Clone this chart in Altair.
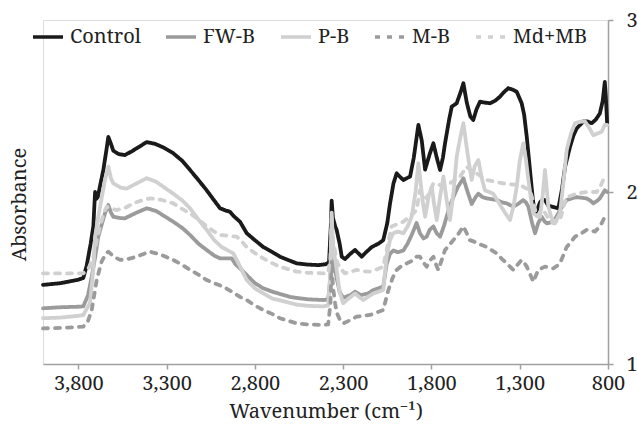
import altair as alt
import pandas as pd

series_names = ["Control", "FW-B", "P-B", "M-B", "Md+MB"]
series_colors = ["#1a1a1a", "#9b9b9b", "#d0d0d0", "#9b9b9b", "#d0d0d0"]
series_dashes = [[1, 0], [1, 0], [1, 0], [5, 7], [5, 7]]
x_ticks = [3800, 3300, 2800, 2300, 1800, 1300, 800]
y_ticks = [1, 2, 3]

control_wn = [4000, 3900, 3800, 3772, 3753, 3730, 3715, 3705, 3698, 3690, 3658, 3640, 3630, 3615, 3602, 3570, 3536, 3500, 3469, 3413, 3366, 3320, 3262, 3210, 3167, 3120, 3073, 3030, 2997, 2960, 2941, 2920, 2884, 2846, 2800, 2752, 2700, 2658, 2600, 2563, 2500, 2440, 2400, 2380, 2370, 2365, 2358, 2345, 2337, 2320, 2308, 2290, 2260, 2233, 2210, 2195, 2170, 2138, 2100, 2073, 2050, 2035, 2015, 1997, 1980, 1959, 1940, 1921, 1900, 1874, 1855, 1836, 1810, 1789, 1770, 1751, 1735, 1723, 1700, 1685, 1657, 1635, 1619, 1600, 1580, 1563, 1545, 1525, 1500, 1468, 1440, 1412, 1390, 1365, 1340, 1317, 1289, 1275, 1260, 1242, 1225, 1213, 1200, 1185, 1170, 1157, 1138, 1119, 1100, 1081, 1060, 1043, 1015, 995, 977, 940, 915, 893, 870, 846, 830, 818, 812, 805]
control_abs = [1.46, 1.47, 1.49, 1.50, 1.57, 1.70, 1.80, 2.00, 1.96, 1.97, 2.13, 2.25, 2.32, 2.28, 2.24, 2.22, 2.215, 2.235, 2.254, 2.29, 2.28, 2.26, 2.225, 2.18, 2.128, 2.07, 2.01, 1.95, 1.905, 1.89, 1.885, 1.86, 1.827, 1.76, 1.72, 1.68, 1.65, 1.624, 1.60, 1.585, 1.578, 1.575, 1.58, 1.59, 1.80, 1.95, 1.85, 1.80, 1.78, 1.70, 1.624, 1.61, 1.64, 1.663, 1.64, 1.624, 1.65, 1.68, 1.70, 1.72, 1.82, 1.93, 2.05, 2.108, 2.09, 2.07, 2.08, 2.09, 2.20, 2.39, 2.30, 2.13, 2.22, 2.283, 2.20, 2.128, 2.20, 2.283, 2.42, 2.496, 2.516, 2.58, 2.632, 2.52, 2.44, 2.419, 2.48, 2.525, 2.52, 2.516, 2.53, 2.554, 2.58, 2.603, 2.595, 2.583, 2.516, 2.45, 2.32, 2.128, 1.95, 1.876, 1.90, 1.94, 1.955, 1.953, 1.92, 1.915, 1.91, 1.905, 2.02, 2.147, 2.263, 2.33, 2.37, 2.41, 2.41, 2.40, 2.42, 2.457, 2.53, 2.64, 2.55, 2.40]

fwb_wn = [4000, 3900, 3800, 3772, 3745, 3724, 3705, 3687, 3665, 3649, 3630, 3615, 3602, 3560, 3536, 3470, 3413, 3360, 3262, 3210, 3167, 3120, 3073, 3030, 2997, 2931, 2910, 2884, 2846, 2800, 2752, 2700, 2658, 2600, 2563, 2500, 2412, 2385, 2372, 2365, 2358, 2345, 2337, 2320, 2300, 2260, 2233, 2200, 2160, 2129, 2100, 2073, 2054, 2035, 2016, 1990, 1959, 1935, 1912, 1884, 1865, 1845, 1827, 1810, 1789, 1770, 1751, 1730, 1714, 1695, 1676, 1650, 1619, 1595, 1572, 1550, 1534, 1510, 1487, 1430, 1400, 1374, 1336, 1310, 1280, 1265, 1251, 1230, 1213, 1195, 1176, 1160, 1147, 1110, 1090, 1072, 1050, 1034, 1000, 977, 921, 900, 883, 860, 846, 818, 805]
fwb_abs = [1.324, 1.33, 1.333, 1.335, 1.40, 1.508, 1.62, 1.74, 1.82, 1.876, 1.924, 1.88, 1.856, 1.848, 1.847, 1.88, 1.905, 1.89, 1.827, 1.79, 1.75, 1.70, 1.663, 1.63, 1.614, 1.614, 1.58, 1.556, 1.517, 1.47, 1.44, 1.42, 1.407, 1.39, 1.384, 1.376, 1.372, 1.375, 1.50, 1.78, 1.62, 1.55, 1.50, 1.42, 1.385, 1.40, 1.42, 1.40, 1.41, 1.43, 1.44, 1.45, 1.58, 1.64, 1.66, 1.65, 1.66, 1.70, 1.75, 1.82, 1.76, 1.73, 1.74, 1.78, 1.80, 1.76, 1.74, 1.80, 1.856, 1.92, 1.97, 2.03, 2.08, 2.00, 1.93, 1.97, 1.99, 1.97, 1.963, 1.953, 1.94, 1.934, 1.915, 1.93, 1.953, 1.94, 1.915, 1.82, 1.76, 1.82, 1.856, 1.83, 1.818, 1.827, 1.86, 1.895, 1.93, 1.953, 1.965, 1.97, 1.963, 1.95, 1.934, 1.95, 1.963, 2.01, 2.00]

pb_wn = [4000, 3900, 3800, 3772, 3734, 3715, 3705, 3687, 3665, 3649, 3630, 3615, 3602, 3560, 3526, 3470, 3413, 3360, 3262, 3210, 3167, 3120, 3073, 3030, 2988, 2922, 2900, 2884, 2846, 2800, 2752, 2700, 2658, 2600, 2563, 2500, 2412, 2385, 2372, 2365, 2358, 2345, 2337, 2320, 2300, 2270, 2233, 2210, 2186, 2160, 2129, 2100, 2073, 2054, 2035, 2016, 1990, 1959, 1935, 1912, 1890, 1874, 1865, 1850, 1836, 1815, 1798, 1785, 1770, 1750, 1732, 1715, 1695, 1675, 1657, 1640, 1619, 1595, 1572, 1555, 1534, 1515, 1497, 1450, 1420, 1393, 1355, 1335, 1317, 1300, 1280, 1265, 1251, 1235, 1223, 1200, 1185, 1170, 1157, 1147, 1138, 1120, 1100, 1085, 1072, 1050, 1034, 1010, 987, 950, 930, 905, 883, 860, 836, 818, 805]
pb_abs = [1.266, 1.27, 1.28, 1.285, 1.354, 1.55, 1.74, 1.856, 1.98, 2.07, 2.147, 2.08, 2.05, 2.025, 2.02, 2.05, 2.08, 2.06, 1.99, 1.95, 1.905, 1.84, 1.78, 1.72, 1.68, 1.643, 1.60, 1.566, 1.488, 1.44, 1.41, 1.38, 1.37, 1.355, 1.345, 1.338, 1.335, 1.34, 1.55, 1.88, 1.70, 1.60, 1.55, 1.42, 1.353, 1.38, 1.41, 1.39, 1.372, 1.39, 1.41, 1.42, 1.43, 1.624, 1.72, 1.76, 1.77, 1.76, 1.80, 1.856, 2.00, 2.167, 2.09, 1.95, 1.856, 1.98, 2.03, 1.93, 1.837, 1.98, 2.09, 1.96, 1.837, 2.00, 2.205, 2.30, 2.40, 2.22, 2.07, 2.15, 2.186, 2.08, 2.01, 1.99, 1.94, 1.895, 1.837, 1.92, 2.03, 2.18, 2.283, 2.19, 2.07, 1.95, 1.876, 1.86, 1.856, 1.98, 2.128, 2.02, 1.915, 1.85, 1.818, 1.85, 1.876, 2.08, 2.244, 2.34, 2.40, 2.41, 2.41, 2.37, 2.33, 2.34, 2.35, 2.39, 2.39]

mb_wn = [4000, 3900, 3800, 3772, 3745, 3724, 3710, 3696, 3680, 3668, 3645, 3630, 3600, 3564, 3520, 3469, 3430, 3394, 3330, 3262, 3210, 3167, 3120, 3073, 3030, 2979, 2930, 2884, 2846, 2800, 2752, 2700, 2658, 2600, 2563, 2500, 2412, 2385, 2372, 2365, 2358, 2345, 2337, 2320, 2300, 2260, 2224, 2190, 2148, 2110, 2073, 2044, 2020, 1997, 1970, 1940, 1910, 1884, 1865, 1845, 1827, 1810, 1789, 1775, 1761, 1740, 1723, 1700, 1676, 1645, 1619, 1600, 1582, 1555, 1534, 1487, 1430, 1400, 1374, 1336, 1310, 1289, 1275, 1260, 1240, 1223, 1210, 1195, 1157, 1110, 1090, 1072, 1050, 1034, 1010, 987, 950, 921, 895, 874, 855, 836, 818, 805]
mb_abs = [1.207, 1.21, 1.215, 1.217, 1.25, 1.314, 1.40, 1.488, 1.55, 1.595, 1.64, 1.653, 1.625, 1.605, 1.61, 1.624, 1.64, 1.653, 1.635, 1.605, 1.575, 1.547, 1.52, 1.488, 1.47, 1.45, 1.42, 1.39, 1.372, 1.34, 1.314, 1.29, 1.266, 1.248, 1.236, 1.23, 1.227, 1.23, 1.35, 1.60, 1.45, 1.35, 1.30, 1.26, 1.236, 1.255, 1.275, 1.28, 1.285, 1.30, 1.314, 1.43, 1.50, 1.547, 1.57, 1.585, 1.60, 1.624, 1.624, 1.59, 1.566, 1.60, 1.624, 1.58, 1.547, 1.61, 1.663, 1.69, 1.72, 1.76, 1.80, 1.76, 1.72, 1.71, 1.70, 1.68, 1.643, 1.61, 1.585, 1.547, 1.58, 1.605, 1.59, 1.566, 1.52, 1.478, 1.51, 1.547, 1.566, 1.556, 1.57, 1.585, 1.64, 1.68, 1.71, 1.74, 1.76, 1.78, 1.775, 1.77, 1.79, 1.818, 1.856, 1.86]

mdmb_wn = [4000, 3900, 3800, 3772, 3740, 3715, 3695, 3677, 3655, 3639, 3620, 3583, 3530, 3489, 3430, 3394, 3330, 3262, 3210, 3167, 3120, 3073, 3030, 2997, 2903, 2880, 2846, 2800, 2752, 2700, 2658, 2600, 2563, 2500, 2412, 2385, 2372, 2365, 2358, 2345, 2337, 2320, 2290, 2260, 2224, 2190, 2148, 2110, 2073, 2050, 2026, 1990, 1959, 1920, 1884, 1865, 1845, 1827, 1789, 1750, 1714, 1680, 1638, 1601, 1570, 1544, 1487, 1440, 1393, 1350, 1298, 1242, 1220, 1204, 1185, 1166, 1140, 1110, 1072, 1050, 1034, 977, 921, 864, 840, 818, 805]
mdmb_abs = [1.527, 1.527, 1.527, 1.527, 1.56, 1.624, 1.72, 1.80, 1.88, 1.915, 1.905, 1.895, 1.91, 1.934, 1.955, 1.963, 1.955, 1.934, 1.90, 1.876, 1.84, 1.80, 1.77, 1.75, 1.74, 1.72, 1.68, 1.645, 1.614, 1.585, 1.566, 1.548, 1.537, 1.53, 1.527, 1.53, 1.62, 1.85, 1.72, 1.65, 1.60, 1.56, 1.527, 1.535, 1.547, 1.54, 1.537, 1.55, 1.566, 1.68, 1.80, 1.815, 1.827, 1.86, 1.895, 2.01, 1.98, 1.963, 2.05, 2.04, 2.04, 2.06, 2.09, 2.147, 2.12, 2.108, 2.07, 2.06, 2.05, 2.045, 2.04, 2.01, 1.93, 1.856, 1.88, 1.895, 1.85, 1.818, 1.837, 1.92, 1.97, 1.99, 2.00, 2.00, 2.04, 2.09, 2.09]

rows = []
for name, wns, vals in [
    ("Control", control_wn, control_abs),
    ("FW-B", fwb_wn, fwb_abs),
    ("P-B", pb_wn, pb_abs),
    ("M-B", mb_wn, mb_abs),
    ("Md+MB", mdmb_wn, mdmb_abs),
]:
    for w, a in zip(wns, vals):
        rows.append({"series": name, "wn": w, "abs": a})
df = pd.DataFrame(rows)

FONT = "Noto Serif, DejaVu Serif"
FS = 20

x_axis = alt.Axis(
    values=x_ticks, format=",.0f", title="Wavenumber (cm⁻¹)", grid=False,
    domainColor="#a0a0a0", domainWidth=1.5, tickColor="#a0a0a0", tickWidth=1.5, tickSize=5,
    labelFont=FONT, labelFontSize=FS, labelColor="#222222", labelPadding=4,
    titleFont=FONT, titleFontSize=FS, titleFontWeight="normal", titleColor="#222222", titlePadding=8,
    labelFlush=False, labelOverlap=False,
)
x_scale = alt.Scale(domain=[800, 4000], reverse=True, nice=False, zero=False)
y_scale = alt.Scale(domain=[1, 3], nice=False, zero=False)

legend_opts = dict(
    title=None, orient="none", legendX=-12, legendY=0, direction="horizontal",
    symbolType="stroke", symbolSize=900, symbolStrokeWidth=3.5,
    labelFont=FONT, labelFontSize=FS, labelColor="#222222", labelOffset=5,
    columnPadding=18, padding=0,
)

lines = alt.Chart(df).mark_line(strokeWidth=3.8, strokeCap="round", strokeJoin="round").encode(
    x=alt.X("wn:Q", scale=x_scale, axis=x_axis),
    y=alt.Y(
        "abs:Q", scale=y_scale,
        axis=alt.Axis(
            orient="right", values=y_ticks, format=".0f", title=None, grid=False,
            domainColor="#a0a0a0", domainWidth=1.5, tickColor="#a0a0a0", tickWidth=1.5, tickSize=5,
            labelFont=FONT, labelFontSize=FS, labelColor="#222222", labelPadding=13,
            labelFlush=False,
        ),
    ),
    color=alt.Color(
        "series:N", sort=series_names,
        scale=alt.Scale(domain=series_names, range=series_colors),
        legend=alt.Legend(**legend_opts),
    ),
    strokeDash=alt.StrokeDash(
        "series:N", sort=series_names,
        scale=alt.Scale(domain=series_names, range=series_dashes),
        legend=alt.Legend(**legend_opts),
    ),
)

ytitle = alt.Chart(df).mark_line(strokeOpacity=0).encode(
    x=alt.X("wn:Q", scale=x_scale, axis=x_axis),
    y=alt.Y(
        "abs:Q", scale=y_scale,
        axis=alt.Axis(
            orient="left", title="Absorbance", labels=False, ticks=False, domain=False, grid=False,
            titleFont=FONT, titleFontSize=FS, titleFontWeight="normal", titleColor="#222222",
            titleX=-18, titleY=184, titleAngle=270, titleBaseline="alphabetic", titleAlign="center",
        ),
    ),
    detail="series:N",
)

chart = alt.layer(lines, ytitle).properties(
    width=565, height=344,
    autosize=alt.AutoSizeParams(type="none"),
    padding={"left": 43, "top": 20, "right": 30, "bottom": 68},
).configure_view(stroke=None).configure(background="white")

chart.save("out.html", embed_options={"renderer": "svg", "actions": False})
